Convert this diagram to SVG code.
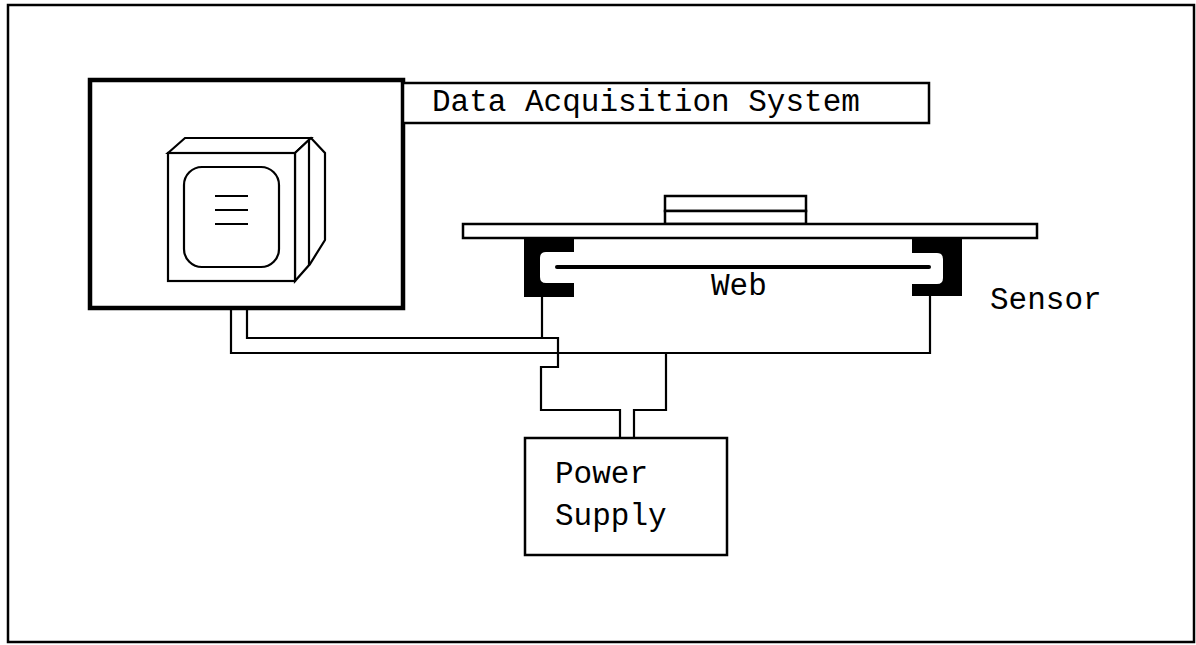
<svg xmlns="http://www.w3.org/2000/svg" width="1196" height="645" viewBox="0 0 1196 645">
  <style>
    .ln { fill: none; stroke: #000; stroke-width: 2.2; stroke-linejoin: miter; }
    .box { fill: #fff; stroke: #000; stroke-width: 2.5; }
    .thick { fill: #fff; stroke: #000; stroke-width: 4.5; }
    .solid { fill: #000; stroke: none; }
    .lbl { font-family: "Liberation Mono", "Courier New", monospace; font-size: 31px; fill: #000; }
  </style>

  <rect x="0" y="0" width="1196" height="645" fill="#fff"/>
  <!-- page frame -->
  <rect id="frame" x="8" y="5" width="1186" height="637" fill="none" stroke="#000" stroke-width="2.5"/>

  <!-- wiring -->
  <g id="connectors" class="ln">
    <!-- monitor cable to right sensor (lower run) -->
    <polyline points="231,281 231,353 930,353 930,296"/>
    <!-- monitor cable to left sensor and supply (upper run) -->
    <polyline points="247,281 247,338 558,338 558,367 541,367 541,410 620,410 620,438"/>
    <line x1="542" y1="297" x2="542" y2="338"/>
    <!-- supply return to sensor bus -->
    <polyline points="666,353 666,410 634,410 634,438"/>
  </g>

  <!-- data acquisition system -->
  <g id="daq">
    <rect class="thick" x="90" y="80" width="313" height="228"/>
    <rect class="box" x="403" y="83" width="526" height="40"/>
    <text class="lbl" x="432" y="111">Data Acquisition System</text>
    <g id="monitor" class="ln" stroke-width="2.8" fill="#fff">
      <polygon points="168,153 185,138 311,138 295,153" fill="#fff"/>
      <polygon points="295,153 311,138 325,153 325,240 310,264 295,281" fill="#fff"/>
      <line x1="309" y1="140" x2="309" y2="266"/>
      <rect x="168" y="153" width="127" height="128" fill="#fff"/>
      <rect x="184" y="167" width="95" height="100" rx="18" ry="18" fill="#fff"/>
      <line x1="215" y1="196" x2="248" y2="196"/>
      <line x1="215" y1="210" x2="248" y2="210"/>
      <line x1="215" y1="224" x2="248" y2="224"/>
    </g>
  </g>

  <!-- sensor assembly -->
  <g id="sensor">
    <rect class="box" x="665" y="196" width="141" height="15"/>
    <rect class="box" x="665" y="211" width="141" height="13"/>
    <rect class="box" x="463" y="224" width="574" height="14"/>
    <!-- left bracket -->
    <path class="solid" d="M524,239 H574 V252 H546 Q540,252 540,258 V277 Q540,283 546,283 H574 V297 H524 Z"/>
    <!-- right bracket -->
    <path class="solid" d="M912,238 H962 V296 H912 V284 H937 Q943,284 943,278 V259 Q943,253 937,253 H912 Z"/>
    <!-- web -->
    <line x1="557" y1="267" x2="929" y2="267" stroke="#000" stroke-width="4" stroke-linecap="round"/>
    <text class="lbl" x="711" y="295">Web</text>
    <text class="lbl" x="990" y="309">Sensor</text>
  </g>

  <!-- power supply -->
  <g id="power">
    <rect class="box" x="525" y="438" width="202" height="117"/>
    <text class="lbl" x="555" y="483">Power</text>
    <text class="lbl" x="555" y="525">Supply</text>
  </g>
</svg>
